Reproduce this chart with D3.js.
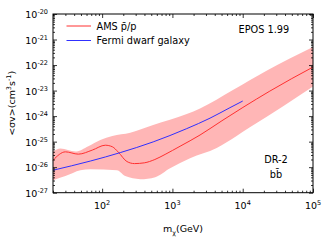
<!DOCTYPE html>
<html>
<head>
<meta charset="utf-8">
<script src="https://cdn.jsdelivr.net/npm/d3@7"></script>
<style>
body { margin: 0; background: #fff; }
text { font-family: "DejaVu Sans", sans-serif; fill: #000; }
</style>
</head>
<body>
<svg width="332" height="242"></svg>
<script>
// log10 of mass (GeV) and log10 of <sigma v>
var amsLogM = [1.301, 1.478, 1.662, 1.861, 2.045, 2.145, 2.23, 2.353, 2.46, 2.6, 2.75, 2.896, 3.109, 3.393, 3.705, 4.003, 4.386, 4.698, 5.0];
var amsLogSv = [-25.73, -25.40, -25.49, -25.33, -25.14, -25.20, -25.41, -25.78, -25.86, -25.83, -25.70, -25.50, -25.18, -24.74, -24.18, -23.66, -23.02, -22.53, -22.08];

var bandUpLogM = [1.301, 1.407, 1.62, 1.804, 1.974, 2.145, 2.4, 2.726, 3.204, 3.393, 3.861, 4.339, 5.0];
var bandUpLogSv = [-25.40, -25.27, -25.39, -25.18, -24.94, -24.78, -24.65, -24.35, -23.92, -23.70, -22.98, -22.22, -21.29];
var bandLoLogM = [1.301, 1.478, 1.691, 1.833, 2.211, 2.329, 2.542, 2.755, 2.967, 3.251, 3.63, 3.913, 4.102, 4.57, 5.0];
var bandLoLogSv = [-26.51, -26.35, -26.12, -26.08, -26.12, -26.35, -26.47, -26.39, -26.04, -25.65, -25.25, -24.78, -24.44, -23.62, -22.84];

var fermiLogM = [1.301, 1.833, 2.258, 2.726, 3.204, 3.535, 3.818, 4.0];
var fermiLogSv = [-26.12, -25.76, -25.43, -25.01, -24.49, -24.08, -23.67, -23.41];

var xTicks = [2, 3, 4, 5];
var yTicks = [-27, -26, -25, -24, -23, -22, -21, -20];
var legendNames = ['AMS p\u0304/p', 'Fermi dwarf galaxy'];
var legendColors = ['#ff3030', '#3030ff'];

var svg = d3.select('svg');
var pL = 53, pR = 313, pT = 14, pB = 192.7;

var x = d3.scaleLog().domain([20, 1e5]).range([pL, pR]);
var y = d3.scaleLog().domain([1e-27, 1e-20]).range([pB, pT]);

function pts(lm, ls) {
    return lm.map(function(d, i) { return [Math.pow(10, d), Math.pow(10, ls[i])]; });
}

var line = d3.line()
    .x(function(d) { return x(d[0]); })
    .y(function(d) { return y(d[1]); })
    .curve(d3.curveMonotoneX);

// band: upper edge forward, lower edge back
var up = pts(bandUpLogM, bandUpLogSv);
var lo = pts(bandLoLogM, bandLoLogSv).reverse();
var bandPath = line(up) + 'L' + line(lo).slice(1) + 'Z';
svg.append('path')
    .attr('d', bandPath)
    .attr('fill', '#ffb6b6')
    .attr('stroke', 'none');

svg.append('path')
    .datum(pts(amsLogM, amsLogSv))
    .attr('d', line)
    .attr('fill', 'none')
    .attr('stroke', legendColors[0])
    .attr('stroke-width', 1);

svg.append('path')
    .datum(pts(fermiLogM, fermiLogSv))
    .attr('d', line)
    .attr('fill', 'none')
    .attr('stroke', legendColors[1])
    .attr('stroke-width', 1);

// ticks pointing inward on all four sides
var minorX = [], minorY = [];
for (var e = 1; e < 5; e++) {
    for (var k = 2; k < 10; k++) {
        var v = k * Math.pow(10, e);
        if (v >= 20 && v <= 1e5) minorX.push(v);
    }
}
for (var e2 = -27; e2 < -20; e2++) {
    for (var k2 = 2; k2 < 10; k2++) minorY.push(k2 * Math.pow(10, e2));
}
var majorX = xTicks.map(function(d) { return Math.pow(10, d); });
var majorY = yTicks.map(function(d) { return Math.pow(10, d); });

function noDomain(g) { g.select('.domain').remove(); }

svg.append('g').attr('transform', 'translate(0,' + pB + ')')
    .call(d3.axisTop(x).tickValues(majorX).tickSize(4).tickFormat('')).call(noDomain);
svg.append('g').attr('transform', 'translate(0,' + pB + ')')
    .call(d3.axisTop(x).tickValues(minorX).tickSize(2).tickFormat('')).call(noDomain);
svg.append('g').attr('transform', 'translate(0,' + pT + ')')
    .call(d3.axisBottom(x).tickValues(majorX).tickSize(4).tickFormat('')).call(noDomain);
svg.append('g').attr('transform', 'translate(0,' + pT + ')')
    .call(d3.axisBottom(x).tickValues(minorX).tickSize(2).tickFormat('')).call(noDomain);
svg.append('g').attr('transform', 'translate(' + pL + ',0)')
    .call(d3.axisRight(y).tickValues(majorY).tickSize(4).tickFormat('')).call(noDomain);
svg.append('g').attr('transform', 'translate(' + pL + ',0)')
    .call(d3.axisRight(y).tickValues(minorY).tickSize(2).tickFormat('')).call(noDomain);
svg.append('g').attr('transform', 'translate(' + pR + ',0)')
    .call(d3.axisLeft(y).tickValues(majorY).tickSize(4).tickFormat('')).call(noDomain);
svg.append('g').attr('transform', 'translate(' + pR + ',0)')
    .call(d3.axisLeft(y).tickValues(minorY).tickSize(2).tickFormat('')).call(noDomain);

svg.selectAll('.tick line').attr('stroke', '#000').attr('stroke-width', 0.8);

svg.append('rect')
    .attr('x', pL).attr('y', pT)
    .attr('width', pR - pL).attr('height', pB - pT)
    .attr('fill', 'none').attr('stroke', '#000').attr('stroke-width', 1);

// tick labels with superscripts
var xl = svg.append('g').selectAll('text').data(xTicks).enter().append('text')
    .attr('x', function(d) { return x(Math.pow(10, d)); })
    .attr('y', 209)
    .attr('text-anchor', 'middle')
    .style('font-size', '9.5px');
xl.append('tspan').text('10');
xl.append('tspan').attr('dy', -4).style('font-size', '6.5px').text(function(d) { return d; });

var yl = svg.append('g').selectAll('text').data(yTicks).enter().append('text')
    .attr('x', 48)
    .attr('y', function(d) { return y(Math.pow(10, d)) + 4; })
    .attr('text-anchor', 'end')
    .style('font-size', '9.5px');
yl.append('tspan').text('10');
yl.append('tspan').attr('dy', -4).style('font-size', '6.5px').text(function(d) { return '-' + Math.abs(d); });

// axis titles
var xt = svg.append('text')
    .attr('x', (pL + pR) / 2).attr('y', 232)
    .attr('text-anchor', 'middle')
    .style('font-size', '9.5px');
xt.append('tspan').text('m');
xt.append('tspan').attr('dy', 2.5).style('font-size', '6.5px').text('\u03c7');
xt.append('tspan').attr('dy', -2.5).text('(GeV)');

var yt = svg.append('text')
    .attr('transform', 'translate(15,' + ((pT + pB) / 2) + ') rotate(-90)')
    .attr('text-anchor', 'middle')
    .style('font-size', '9.5px');
yt.append('tspan').text('<\u03c3v>(cm');
yt.append('tspan').attr('dy', -4).style('font-size', '6.5px').text('3');
yt.append('tspan').attr('dy', 4).text('s');
yt.append('tspan').attr('dy', -4).style('font-size', '6.5px').text('-1');
yt.append('tspan').attr('dy', 4).text(')');

// legend
var lg = svg.append('g').selectAll('g').data(legendNames).enter().append('g')
    .attr('transform', function(d, i) { return 'translate(0,' + (26 + i * 14.5) + ')'; });
lg.append('line')
    .attr('x1', 66.5).attr('x2', 91)
    .attr('stroke', function(d, i) { return legendColors[i]; })
    .attr('stroke-width', 1);
lg.append('text')
    .attr('x', 96.5).attr('y', 3.5)
    .style('font-size', '9.75px')
    .text(function(d) { return d; });

svg.append('text').attr('x', 238.5).attr('y', 33)
    .style('font-size', '9.75px').text('EPOS 1.99');
svg.append('text').attr('x', 276).attr('y', 162.5)
    .attr('text-anchor', 'middle')
    .style('font-size', '9.75px').text('DR-2');
svg.append('text').attr('x', 276).attr('y', 177.5)
    .attr('text-anchor', 'middle')
    .style('font-size', '9.75px').text('bb\u0304');
</script>
</body>
</html>
